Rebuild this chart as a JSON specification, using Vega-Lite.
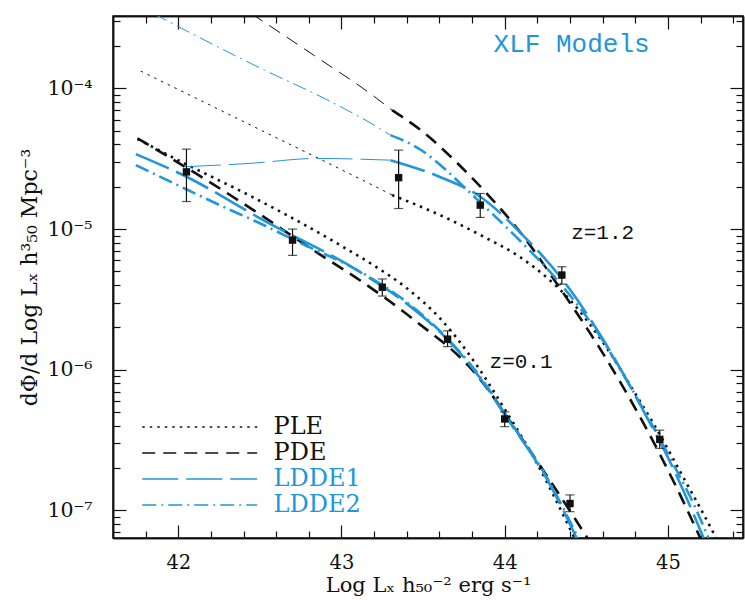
{
  "$schema": "https://vega.github.io/schema/vega-lite/v6.json",
  "width": 630,
  "height": 522,
  "autosize": {"type": "none"},
  "padding": {"left": 113, "top": 16, "right": 2, "bottom": 62},
  "background": "white",
  "config": {
    "view": {"stroke": "#111", "strokeWidth": 1.5},
    "axis": {
      "grid": false,
      "domainColor": "#111",
      "domainWidth": 1.5,
      "tickColor": "#111",
      "tickWidth": 1.2,
      "labelFont": "DejaVu Serif",
      "labelFontSize": 20.5,
      "labelColor": "#111",
      "labelFlush": false,
      "labelOverlap": false,
      "titleFont": "DejaVu Serif",
      "titleFontSize": 22,
      "titleFontWeight": "normal",
      "titleColor": "#111"
    }
  },
  "layer": [
    {
      "data": {"values": [
        {"model": "PLE", "z": "0.1", "part": "main", "L": 41.75, "phi": 4.365e-5},
        {"model": "PLE", "z": "0.1", "part": "main", "L": 42.05, "phi": 2.884e-5},
        {"model": "PLE", "z": "0.1", "part": "main", "L": 42.4, "phi": 1.820e-5},
        {"model": "PLE", "z": "0.1", "part": "main", "L": 42.68, "phi": 1.230e-5},
        {"model": "PLE", "z": "0.1", "part": "main", "L": 43.0, "phi": 7.586e-6},
        {"model": "PLE", "z": "0.1", "part": "main", "L": 43.2, "phi": 5.495e-6},
        {"model": "PLE", "z": "0.1", "part": "main", "L": 43.4, "phi": 3.802e-6},
        {"model": "PLE", "z": "0.1", "part": "main", "L": 43.6, "phi": 2.344e-6},
        {"model": "PLE", "z": "0.1", "part": "main", "L": 43.8, "phi": 1.202e-6},
        {"model": "PLE", "z": "0.1", "part": "main", "L": 44.0, "phi": 5.248e-7},
        {"model": "PLE", "z": "0.1", "part": "main", "L": 44.2, "phi": 2.138e-7},
        {"model": "PLE", "z": "0.1", "part": "main", "L": 44.4, "phi": 7.413e-8},
        {"model": "PLE", "z": "0.1", "part": "main", "L": 44.45, "phi": 5.623e-8},

        {"model": "PDE", "z": "0.1", "part": "main", "L": 41.75, "phi": 4.416e-5},
        {"model": "PDE", "z": "0.1", "part": "main", "L": 42.19, "phi": 2.168e-5},
        {"model": "PDE", "z": "0.1", "part": "main", "L": 42.46, "phi": 1.365e-5},
        {"model": "PDE", "z": "0.1", "part": "main", "L": 42.825, "phi": 7.112e-6},
        {"model": "PDE", "z": "0.1", "part": "main", "L": 43.11, "phi": 4.345e-6},
        {"model": "PDE", "z": "0.1", "part": "main", "L": 43.45, "phi": 2.239e-6},
        {"model": "PDE", "z": "0.1", "part": "main", "L": 43.8, "phi": 1.0e-6},
        {"model": "PDE", "z": "0.1", "part": "main", "L": 44.14, "phi": 2.818e-7},
        {"model": "PDE", "z": "0.1", "part": "main", "L": 44.42, "phi": 9.120e-8},
        {"model": "PDE", "z": "0.1", "part": "main", "L": 44.52, "phi": 6.026e-8},

        {"model": "LDDE1", "z": "0.1", "part": "main", "L": 41.74, "phi": 3.412e-5},
        {"model": "LDDE1", "z": "0.1", "part": "main", "L": 42.05, "phi": 2.355e-5},
        {"model": "LDDE1", "z": "0.1", "part": "main", "L": 42.52, "phi": 1.159e-5},
        {"model": "LDDE1", "z": "0.1", "part": "main", "L": 43.11, "phi": 4.977e-6},
        {"model": "LDDE1", "z": "0.1", "part": "main", "L": 43.4, "phi": 2.951e-6},
        {"model": "LDDE1", "z": "0.1", "part": "main", "L": 43.65, "phi": 1.637e-6},
        {"model": "LDDE1", "z": "0.1", "part": "main", "L": 43.85, "phi": 8.710e-7},
        {"model": "LDDE1", "z": "0.1", "part": "main", "L": 44.0, "phi": 4.786e-7},
        {"model": "LDDE1", "z": "0.1", "part": "main", "L": 44.265, "phi": 1.622e-7},
        {"model": "LDDE1", "z": "0.1", "part": "main", "L": 44.45, "phi": 6.026e-8},

        {"model": "LDDE2", "z": "0.1", "part": "main", "L": 41.74, "phi": 2.851e-5},
        {"model": "LDDE2", "z": "0.1", "part": "main", "L": 42.0, "phi": 2.042e-5},
        {"model": "LDDE2", "z": "0.1", "part": "main", "L": 42.275, "phi": 1.442e-5},
        {"model": "LDDE2", "z": "0.1", "part": "main", "L": 42.48, "phi": 1.127e-5},
        {"model": "LDDE2", "z": "0.1", "part": "main", "L": 42.75, "phi": 7.943e-6},
        {"model": "LDDE2", "z": "0.1", "part": "main", "L": 43.11, "phi": 5.012e-6},
        {"model": "LDDE2", "z": "0.1", "part": "main", "L": 43.4, "phi": 3.020e-6},
        {"model": "LDDE2", "z": "0.1", "part": "main", "L": 43.65, "phi": 1.660e-6},
        {"model": "LDDE2", "z": "0.1", "part": "main", "L": 43.85, "phi": 8.913e-7},
        {"model": "LDDE2", "z": "0.1", "part": "main", "L": 44.0, "phi": 4.898e-7},
        {"model": "LDDE2", "z": "0.1", "part": "main", "L": 44.265, "phi": 1.660e-7},
        {"model": "LDDE2", "z": "0.1", "part": "main", "L": 44.46, "phi": 6.026e-8},

        {"model": "PDE", "z": "1.2", "part": "ext", "L": 42.45, "phi": 3.388e-4},
        {"model": "PDE", "z": "1.2", "part": "ext", "L": 42.85, "phi": 1.660e-4},
        {"model": "PDE", "z": "1.2", "part": "ext", "L": 43.18, "phi": 9.120e-5},
        {"model": "PDE", "z": "1.2", "part": "ext", "L": 43.31, "phi": 6.998e-5},
        {"model": "PDE", "z": "1.2", "part": "main", "L": 43.31, "phi": 6.998e-5},
        {"model": "PDE", "z": "1.2", "part": "main", "L": 43.5, "phi": 4.898e-5},
        {"model": "PDE", "z": "1.2", "part": "main", "L": 43.7, "phi": 3.020e-5},
        {"model": "PDE", "z": "1.2", "part": "main", "L": 43.9, "phi": 1.738e-5},
        {"model": "PDE", "z": "1.2", "part": "main", "L": 44.1, "phi": 9.333e-6},
        {"model": "PDE", "z": "1.2", "part": "main", "L": 44.35, "phi": 3.631e-6},
        {"model": "PDE", "z": "1.2", "part": "main", "L": 44.6, "phi": 1.318e-6},
        {"model": "PDE", "z": "1.2", "part": "main", "L": 44.85, "phi": 4.169e-7},
        {"model": "PDE", "z": "1.2", "part": "main", "L": 45.05, "phi": 1.479e-7},
        {"model": "PDE", "z": "1.2", "part": "main", "L": 45.2, "phi": 6.310e-8},

        {"model": "PLE", "z": "1.2", "part": "ext", "L": 41.77, "phi": 1.327e-4},
        {"model": "PLE", "z": "1.2", "part": "ext", "L": 42.505, "phi": 5.058e-5},
        {"model": "PLE", "z": "1.2", "part": "ext", "L": 43.23, "phi": 1.945e-5},
        {"model": "PLE", "z": "1.2", "part": "ext", "L": 43.31, "phi": 1.746e-5},
        {"model": "PLE", "z": "1.2", "part": "main", "L": 43.31, "phi": 1.746e-5},
        {"model": "PLE", "z": "1.2", "part": "main", "L": 43.625, "phi": 1.225e-5},
        {"model": "PLE", "z": "1.2", "part": "main", "L": 43.87, "phi": 8.831e-6},
        {"model": "PLE", "z": "1.2", "part": "main", "L": 44.09, "phi": 6.368e-6},
        {"model": "PLE", "z": "1.2", "part": "main", "L": 44.275, "phi": 4.345e-6},
        {"model": "PLE", "z": "1.2", "part": "main", "L": 44.4, "phi": 3.133e-6},
        {"model": "PLE", "z": "1.2", "part": "main", "L": 44.64, "phi": 1.349e-6},
        {"model": "PLE", "z": "1.2", "part": "main", "L": 44.8, "phi": 6.761e-7},
        {"model": "PLE", "z": "1.2", "part": "main", "L": 44.92, "phi": 3.981e-7},
        {"model": "PLE", "z": "1.2", "part": "main", "L": 45.08, "phi": 1.841e-7},
        {"model": "PLE", "z": "1.2", "part": "main", "L": 45.28, "phi": 6.887e-8},
        {"model": "PLE", "z": "1.2", "part": "main", "L": 45.31, "phi": 5.888e-8},

        {"model": "LDDE1", "z": "1.2", "part": "ext", "L": 42.04, "phi": 2.773e-5},
        {"model": "LDDE1", "z": "1.2", "part": "ext", "L": 42.44, "phi": 2.931e-5},
        {"model": "LDDE1", "z": "1.2", "part": "ext", "L": 42.85, "phi": 3.177e-5},
        {"model": "LDDE1", "z": "1.2", "part": "ext", "L": 43.3, "phi": 3.090e-5},
        {"model": "LDDE1", "z": "1.2", "part": "main", "L": 43.3, "phi": 3.090e-5},
        {"model": "LDDE1", "z": "1.2", "part": "main", "L": 43.6, "phi": 2.355e-5},
        {"model": "LDDE1", "z": "1.2", "part": "main", "L": 43.85, "phi": 1.698e-5},
        {"model": "LDDE1", "z": "1.2", "part": "main", "L": 44.1, "phi": 9.333e-6},
        {"model": "LDDE1", "z": "1.2", "part": "main", "L": 44.4, "phi": 3.715e-6},
        {"model": "LDDE1", "z": "1.2", "part": "main", "L": 44.6, "phi": 1.660e-6},
        {"model": "LDDE1", "z": "1.2", "part": "main", "L": 44.84, "phi": 5.370e-7},
        {"model": "LDDE1", "z": "1.2", "part": "main", "L": 45.04, "phi": 1.905e-7},
        {"model": "LDDE1", "z": "1.2", "part": "main", "L": 45.22, "phi": 6.310e-8},

        {"model": "LDDE2", "z": "1.2", "part": "ext", "L": 41.85, "phi": 3.388e-4},
        {"model": "LDDE2", "z": "1.2", "part": "ext", "L": 42.528, "phi": 1.349e-4},
        {"model": "LDDE2", "z": "1.2", "part": "ext", "L": 42.875, "phi": 8.710e-5},
        {"model": "LDDE2", "z": "1.2", "part": "ext", "L": 43.2, "phi": 5.483e-5},
        {"model": "LDDE2", "z": "1.2", "part": "ext", "L": 43.3, "phi": 4.656e-5},
        {"model": "LDDE2", "z": "1.2", "part": "main", "L": 43.3, "phi": 4.656e-5},
        {"model": "LDDE2", "z": "1.2", "part": "main", "L": 43.49, "phi": 3.631e-5},
        {"model": "LDDE2", "z": "1.2", "part": "main", "L": 43.63, "phi": 2.692e-5},
        {"model": "LDDE2", "z": "1.2", "part": "main", "L": 43.75, "phi": 1.995e-5},
        {"model": "LDDE2", "z": "1.2", "part": "main", "L": 43.85, "phi": 1.549e-5},
        {"model": "LDDE2", "z": "1.2", "part": "main", "L": 44.1, "phi": 8.128e-6},
        {"model": "LDDE2", "z": "1.2", "part": "main", "L": 44.32, "phi": 4.365e-6},
        {"model": "LDDE2", "z": "1.2", "part": "main", "L": 44.56, "phi": 1.905e-6},
        {"model": "LDDE2", "z": "1.2", "part": "main", "L": 44.76, "phi": 7.943e-7},
        {"model": "LDDE2", "z": "1.2", "part": "main", "L": 45.0, "phi": 2.512e-7},
        {"model": "LDDE2", "z": "1.2", "part": "main", "L": 45.16, "phi": 1.096e-7},
        {"model": "LDDE2", "z": "1.2", "part": "main", "L": 45.25, "phi": 6.310e-8}
      ]},
      "mark": {"type": "line", "clip": true, "interpolate": "monotone"},
      "encoding": {
        "x": {"field": "L", "type": "quantitative",
          "scale": {"domain": [41.6, 45.46], "nice": false, "zero": false},
          "axis": {"orient": "bottom", "values": [42, 43, 44, 45], "tickSize": -13, "labelPadding": 28, "labelFontSize": 19.5,
            "title": "Log Lₓ h₅₀⁻² erg s⁻¹", "titlePadding": 3, "titleFontSize": 21}},
        "y": {"field": "phi", "type": "quantitative",
          "scale": {"type": "log", "domain": [6.37e-8, 3.27e-4], "nice": false},
          "axis": {"orient": "left", "values": [1e-4, 1e-5, 1e-6, 1e-7], "tickSize": -13, "labelPadding": 34,
            "labelExpr": "'10' + (datum.value < 2e-7 ? '⁻⁷' : datum.value < 2e-6 ? '⁻⁶' : datum.value < 2e-5 ? '⁻⁵' : '⁻⁴')",
            "title": "dΦ/d Log Lₓ   h³₅₀ Mpc⁻³", "titlePadding": 5}},
        "color": {"field": "model", "type": "nominal",
          "scale": {"domain": ["PLE", "PDE", "LDDE1", "LDDE2"], "range": ["#111111", "#111111", "#2196d9", "#2196d9"]},
          "legend": {"title": null, "orient": "none", "legendX": 23, "legendY": 399, "symbolType": "M-1,0H19",
            "symbolSize": 132.25, "symbolStrokeWidth": 1.4, "labelFont": "DejaVu Serif", "labelFontSize": 24,
            "labelOffset": 113.5, "rowPadding": 2, "padding": 0, "labelLimit": 300,
            "encode": {"labels": {"update": {"fill": {"signal": "datum.value == 'LDDE1' || datum.value == 'LDDE2' ? '#2196d9' : '#111111'"}}}}}},
        "strokeDash": {"field": "model", "type": "nominal",
          "scale": {"domain": ["PLE", "PDE", "LDDE1", "LDDE2"], "range": [[2.5, 5], [13, 8], [36, 8], [14, 5, 2, 5]]},
          "legend": {"title": null, "orient": "none", "legendX": 23, "legendY": 399, "symbolType": "M-1,0H19",
            "symbolSize": 132.25, "symbolStrokeWidth": 1.4, "labelFont": "DejaVu Serif", "labelFontSize": 24,
            "labelOffset": 113.5, "rowPadding": 2, "padding": 0, "labelLimit": 300,
            "encode": {"labels": {"update": {"fill": {"signal": "datum.value == 'LDDE1' || datum.value == 'LDDE2' ? '#2196d9' : '#111111'"}}}}}},
        "strokeWidth": {"field": "part", "type": "ordinal",
          "scale": {"domain": ["main", "ext"], "range": [2.6, 1.0]}, "legend": null},
        "detail": {"field": "z", "type": "nominal"}
      }
    },
    {
      "data": {"name": "pts", "values": [
        {"z": "0.1", "L": 42.05, "phi": 2.55e-5, "lo": 1.57e-5, "hi": 3.7e-5},
        {"z": "0.1", "L": 42.70, "phi": 8.35e-6, "lo": 6.5e-6, "hi": 1.0e-5},
        {"z": "0.1", "L": 43.25, "phi": 3.86e-6, "lo": 3.34e-6, "hi": 4.42e-6},
        {"z": "0.1", "L": 43.65, "phi": 1.65e-6, "lo": 1.46e-6, "hi": 1.89e-6},
        {"z": "0.1", "L": 44.0, "phi": 4.47e-7, "lo": 3.94e-7, "hi": 5.02e-7},
        {"z": "0.1", "L": 44.40, "phi": 1.12e-7, "lo": 9.8e-8, "hi": 1.29e-7},
        {"z": "1.2", "L": 43.35, "phi": 2.32e-5, "lo": 1.40e-5, "hi": 3.64e-5},
        {"z": "1.2", "L": 43.85, "phi": 1.48e-5, "lo": 1.21e-5, "hi": 1.79e-5},
        {"z": "1.2", "L": 44.35, "phi": 4.71e-6, "lo": 4.06e-6, "hi": 5.40e-6},
        {"z": "1.2", "L": 44.95, "phi": 3.2e-7, "lo": 2.76e-7, "hi": 3.72e-7}
      ]},
      "layer": [
        {
          "mark": {"type": "rule", "color": "#111111", "strokeWidth": 1.2},
          "encoding": {
            "x": {"field": "L", "type": "quantitative", "scale": {"domain": [41.6, 45.46], "nice": false, "zero": false},
              "axis": {"orient": "top", "values": [42, 43, 44, 45], "tickSize": -13, "labels": false, "title": null}},
            "y": {"field": "lo", "type": "quantitative", "scale": {"type": "log", "domain": [6.37e-8, 3.27e-4], "nice": false},
              "axis": {"orient": "right", "values": [1e-4, 1e-5, 1e-6, 1e-7], "tickSize": -13, "labels": false, "title": null}},
            "y2": {"field": "hi"}
          }
        },
        {
          "mark": {"type": "tick", "orient": "horizontal", "color": "#111111", "size": 9, "thickness": 1.2},
          "encoding": {
            "x": {"field": "L", "type": "quantitative", "scale": {"domain": [41.6, 45.46], "nice": false, "zero": false},
              "axis": {"orient": "bottom", "values": [41.8, 42.2, 42.4, 42.6, 42.8, 43.2, 43.4, 43.6, 43.8, 44.2, 44.4, 44.6, 44.8, 45.2, 45.4], "tickSize": -7, "labels": false, "title": null}},
            "y": {"field": "lo", "type": "quantitative", "scale": {"type": "log", "domain": [6.37e-8, 3.27e-4], "nice": false},
              "axis": {"orient": "left", "values": [7e-8, 8e-8, 9e-8, 2e-7, 3e-7, 4e-7, 5e-7, 6e-7, 7e-7, 8e-7, 9e-7, 2e-6, 3e-6, 4e-6, 5e-6, 6e-6, 7e-6, 8e-6, 9e-6, 2e-5, 3e-5, 4e-5, 5e-5, 6e-5, 7e-5, 8e-5, 9e-5, 2e-4, 3e-4], "tickSize": -7, "labels": false, "title": null}}
          }
        },
        {
          "mark": {"type": "tick", "orient": "horizontal", "color": "#111111", "size": 9, "thickness": 1.2},
          "encoding": {
            "x": {"field": "L", "type": "quantitative", "scale": {"domain": [41.6, 45.46], "nice": false, "zero": false},
              "axis": {"orient": "top", "values": [41.8, 42.2, 42.4, 42.6, 42.8, 43.2, 43.4, 43.6, 43.8, 44.2, 44.4, 44.6, 44.8, 45.2, 45.4], "tickSize": -7, "labels": false, "title": null}},
            "y": {"field": "hi", "type": "quantitative", "scale": {"type": "log", "domain": [6.37e-8, 3.27e-4], "nice": false},
              "axis": {"orient": "right", "values": [7e-8, 8e-8, 9e-8, 2e-7, 3e-7, 4e-7, 5e-7, 6e-7, 7e-7, 8e-7, 9e-7, 2e-6, 3e-6, 4e-6, 5e-6, 6e-6, 7e-6, 8e-6, 9e-6, 2e-5, 3e-5, 4e-5, 5e-5, 6e-5, 7e-5, 8e-5, 9e-5, 2e-4, 3e-4], "tickSize": -7, "labels": false, "title": null}}
          }
        },
        {
          "mark": {"type": "point", "shape": "square", "filled": true, "color": "#111111", "size": 55, "opacity": 1},
          "encoding": {
            "x": {"field": "L", "type": "quantitative", "scale": {"domain": [41.6, 45.46], "nice": false, "zero": false}, "axis": null},
            "y": {"field": "phi", "type": "quantitative", "scale": {"type": "log", "domain": [6.37e-8, 3.27e-4], "nice": false}, "axis": null}
          }
        }
      ]
    },
    {
      "data": {"values": [
        {"L": 44.60, "phi": 9.33e-6, "label": "z=1.2"},
        {"L": 44.10, "phi": 1.14e-6, "label": "z=0.1"}
      ]},
      "mark": {"type": "text", "font": "Liberation Mono", "fontSize": 21, "color": "#111111", "align": "center", "baseline": "middle"},
      "encoding": {
        "x": {"field": "L", "type": "quantitative", "scale": {"domain": [41.6, 45.46], "nice": false, "zero": false}, "axis": null},
        "y": {"field": "phi", "type": "quantitative", "scale": {"type": "log", "domain": [6.37e-8, 3.27e-4], "nice": false}, "axis": null},
        "text": {"field": "label"}
      }
    },
    {
      "data": {"values": [
        {"L": 44.41, "phi": 2.07e-4, "label": "XLF Models"}
      ]},
      "mark": {"type": "text", "font": "Liberation Mono", "fontSize": 26, "color": "#2196d9", "align": "center", "baseline": "middle"},
      "encoding": {
        "x": {"field": "L", "type": "quantitative", "scale": {"domain": [41.6, 45.46], "nice": false, "zero": false}, "axis": null},
        "y": {"field": "phi", "type": "quantitative", "scale": {"type": "log", "domain": [6.37e-8, 3.27e-4], "nice": false}, "axis": null},
        "text": {"field": "label"}
      }
    }
  ],
  "resolve": {"axis": {"x": "independent", "y": "independent"}}
}
